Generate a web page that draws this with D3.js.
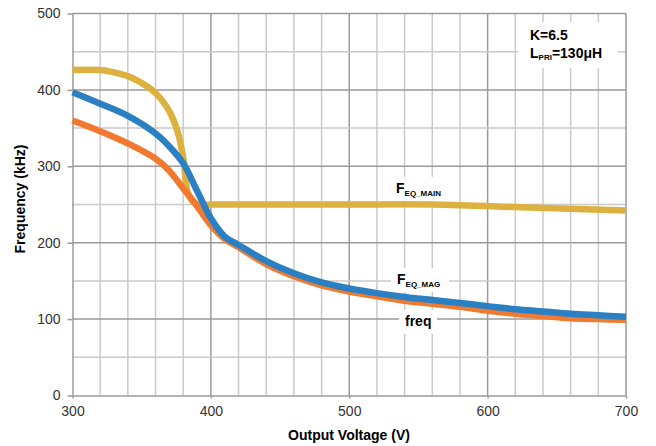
<!DOCTYPE html>
<html>
<head>
<meta charset="utf-8">
<script src="https://cdn.jsdelivr.net/npm/d3@7"></script>
<style>
  body { margin: 0; background: white; }
  text { font-family: "Liberation Sans", Arial, sans-serif; }
</style>
</head>
<body>
<div id="chart"></div>
<script>
// Series data (voltage in V, frequency in kHz)
const mainV = [300, 320, 330, 340, 350, 360, 370, 376, 380, 384, 390, 400, 450, 500, 560, 630, 700];
const mainF = [426, 426, 423, 418, 409, 396, 372, 345, 312, 262, 250, 250, 250, 250, 250, 246, 242];

const magV = [300, 320, 340, 360, 370, 380, 390, 400, 410, 420, 440, 460, 480, 500, 520, 540, 560, 580, 600, 620, 640, 660, 680, 700];
const magF = [397, 382, 366, 343, 326, 304, 268, 232, 208, 197, 176, 160, 148, 140, 134, 129, 125, 121, 117, 113, 110, 107, 105, 103];

const freqV = [300, 320, 340, 360, 370, 380, 388, 400, 410, 420, 440, 460, 480, 500, 520, 540, 560, 580, 600, 620, 640, 660, 680, 700];
const freqF = [360, 346, 330, 310, 294, 271, 253, 223, 205, 194, 172, 156, 144, 136, 130, 124, 120, 116, 111, 107, 104, 101, 100, 99];

const xTicks = [300, 400, 500, 600, 700];
const yTicks = [0, 100, 200, 300, 400, 500];

let width = 656, height = 446;
let margin = { top: 13.5, bottom: 50.5, left: 72.5, right: 30 };

let svg = d3.select("#chart")
    .append("svg")
    .attr("width", width)
    .attr("height", height)
    .style("background", "white");

let x = d3.scaleLinear()
    .domain([300, 700])
    .range([margin.left, width - margin.right]);

let y = d3.scaleLinear()
    .domain([0, 500])
    .range([height - margin.bottom, margin.top]);

// Grid lines: minor every 20 V / 50 kHz, major every 100
const grid = svg.append("g");
d3.range(320, 700, 20).forEach(v => {
    grid.append("line")
        .attr("x1", x(v)).attr("x2", x(v))
        .attr("y1", y(0)).attr("y2", y(500))
        .attr("stroke", v % 100 === 0 ? "#9a9a9a" : "#cacaca")
        .attr("stroke-width", 1.5);
});
d3.range(50, 500, 50).forEach(f => {
    grid.append("line")
        .attr("x1", x(300)).attr("x2", x(700))
        .attr("y1", y(f)).attr("y2", y(f))
        .attr("stroke", f % 100 === 0 ? "#9a9a9a" : "#cacaca")
        .attr("stroke-width", 1.5);
});

// Frame top and right
svg.append("line")
    .attr("x1", x(300)).attr("x2", x(700))
    .attr("y1", y(500)).attr("y2", y(500))
    .attr("stroke", "#9a9a9a").attr("stroke-width", 1.5);
svg.append("line")
    .attr("x1", x(700)).attr("x2", x(700))
    .attr("y1", y(0)).attr("y2", y(500))
    .attr("stroke", "#9a9a9a").attr("stroke-width", 1.5);

// Axes
let xAxis = svg.append("g")
    .attr("transform", `translate(0,${y(0)})`)
    .call(d3.axisBottom(x).tickValues(xTicks).tickSize(3).tickSizeOuter(0).tickPadding(8));

let yAxis = svg.append("g")
    .attr("transform", `translate(${x(300)},0)`)
    .call(d3.axisLeft(y).tickValues(yTicks).tickSize(5).tickSizeOuter(0).tickPadding(7));

[xAxis, yAxis].forEach(a => {
    a.select(".domain").attr("stroke", "#9a9a9a").attr("stroke-width", 1.5);
    a.selectAll(".tick line").attr("stroke", "#9a9a9a").attr("stroke-width", 1.5);
    a.selectAll(".tick text")
        .style("font-family", "Liberation Sans, Arial, sans-serif")
        .style("font-size", "14px")
        .attr("fill", "#333");
});

// Axis labels
svg.append("text")
    .attr("x", 349)
    .attr("y", 440)
    .attr("text-anchor", "middle")
    .style("font-size", "14px")
    .style("font-weight", "bold")
    .text("Output Voltage (V)");

svg.append("text")
    .attr("transform", "rotate(-90)")
    .attr("x", -199)
    .attr("y", 25)
    .attr("text-anchor", "middle")
    .style("font-size", "14px")
    .style("font-weight", "bold")
    .text("Frequency (kHz)");

// Lines
let line = d3.line()
    .x(d => x(d[0]))
    .y(d => y(d[1]))
    .curve(d3.curveCatmullRom.alpha(0.5));

const series = [
    { v: mainV, f: mainF, color: "#dcb13f" },
    { v: freqV, f: freqF, color: "#f27a30" },
    { v: magV, f: magF, color: "#2a80c2" }
];

series.forEach(s => {
    svg.append("path")
        .datum(s.v.map((v, i) => [v, s.f[i]]))
        .attr("fill", "none")
        .attr("stroke", s.color)
        .attr("stroke-width", 6.5)
        .attr("stroke-linejoin", "round")
        .attr("d", line);
});

// Labels with white backgrounds
function label(xp, yp, main, sub, boxW) {
    svg.append("rect")
        .attr("x", xp - 6).attr("y", yp - 16)
        .attr("width", boxW).attr("height", 24)
        .attr("fill", "white");
    let t = svg.append("text")
        .attr("x", xp).attr("y", yp)
        .style("font-size", "14px")
        .style("font-weight", "bold");
    t.append("tspan").text(main);
    if (sub) {
        t.append("tspan")
            .attr("dy", 3)
            .style("font-size", "8px")
            .text(sub);
    }
}

label(396, 193, "F", "EQ_MAIN", 57);
label(397, 284, "F", "EQ_MAG", 58);
label(405, 326, "freq", null, 38);

// Parameter box
svg.append("rect")
    .attr("x", 518).attr("y", 22)
    .attr("width", 100).attr("height", 46)
    .attr("fill", "white");

svg.append("text")
    .attr("x", 530).attr("y", 40)
    .style("font-size", "14px")
    .style("font-weight", "bold")
    .text("K=6.5");

let lp = svg.append("text")
    .attr("x", 530).attr("y", 58)
    .style("font-size", "14px")
    .style("font-weight", "bold");
lp.append("tspan").text("L");
lp.append("tspan").attr("dy", 2).style("font-size", "8px").text("PRI");
lp.append("tspan").attr("dy", -2).text("=130μH");
</script>
</body>
</html>
